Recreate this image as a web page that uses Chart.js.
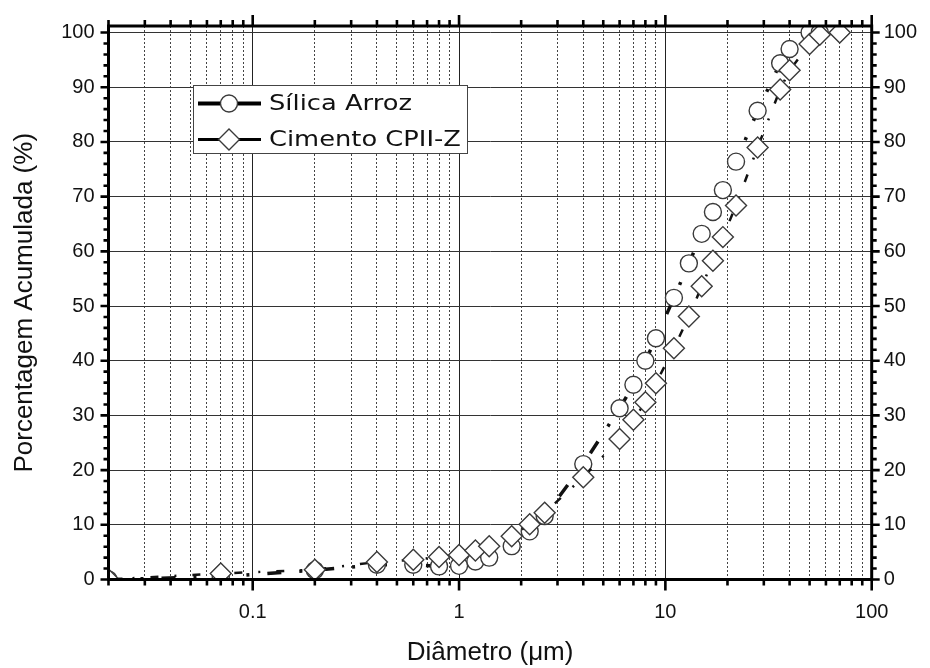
<!DOCTYPE html>
<html>
<head>
<meta charset="utf-8">
<script src="https://cdn.jsdelivr.net/npm/chart.js@4.4.1/dist/chart.umd.min.js"></script>
<style>
  html, body { margin: 0; padding: 0; background: #fff; }
  #wrap { width: 930px; height: 668px; }
</style>
</head>
<body>
<div id="wrap"><canvas id="psd-chart" width="930" height="668"></canvas></div>
<script>
// particle size (um) and cumulative %
const diametro = [0.02, 0.07, 0.2, 0.4, 0.6, 0.8, 1, 1.2, 1.4, 1.8, 2.2, 2.6, 4, 6, 7, 8, 9, 11, 13, 15, 17, 19, 22, 28, 36, 40, 50, 56, 70];
const silicaArroz = [0, 0.5, 1.7, 2.7, 2.7, 2.4, 2.5, 3.3, 4.0, 6.1, 8.8, 11.6, 21.1, 31.3, 35.6, 40.0, 44.1, 51.5, 57.8, 63.2, 67.2, 71.2, 76.4, 85.7, 94.4, 97.0, 100, 100, null];
const cimentoCPIIZ = [0, 1.1, 1.8, 3.2, 3.6, 4.1, 4.5, 5.3, 6.1, 7.9, 10.1, 12.2, 18.7, 25.7, 29.2, 32.4, 35.9, 42.3, 48.1, 53.6, 58.3, 62.6, 68.4, 79.0, 89.6, 93.1, 97.9, 99.6, 100];

// axis ticks
const xTickValues = [0.02, 0.03, 0.04, 0.05, 0.06, 0.07, 0.08, 0.09,
  0.1, 0.2, 0.3, 0.4, 0.5, 0.6, 0.7, 0.8, 0.9,
  1, 2, 3, 4, 5, 6, 7, 8, 9,
  10, 20, 30, 40, 50, 60, 70, 80, 90, 100];
const xMajorTicks = [0.1, 1, 10, 100];
const yTickValues = [0, 2, 4, 6, 8, 10, 12, 14, 16, 18, 20, 22, 24, 26, 28, 30, 32, 34, 36, 38, 40,
  42, 44, 46, 48, 50, 52, 54, 56, 58, 60, 62, 64, 66, 68, 70, 72, 74, 76, 78, 80,
  82, 84, 86, 88, 90, 92, 94, 96, 98, 100];
const yMajorTicks = [0, 10, 20, 30, 40, 50, 60, 70, 80, 90, 100];

const Y_MAX = 101.2;
const TICK_FONT = { family: "'Liberation Sans', Arial, sans-serif", size: 20 };
const TITLE_FONT = { family: "'Liberation Sans', Arial, sans-serif", size: 26 };

const toPoints = (vals) => diametro.map((d, i) => ({ x: d, y: vals[i] }));

// box frame with ticks on all four sides (major ticks longer)
const frameAxes = {
  id: "frameAxes",
  afterDatasetsDraw(chart) {
    const { ctx, chartArea: a, scales } = chart;
    ctx.save();
    ctx.strokeStyle = "#000";
    ctx.lineWidth = 2.6;
    ctx.beginPath();
    xTickValues.forEach((v) => {
      const px = scales.x.getPixelForValue(v);
      const len = xMajorTicks.includes(v) ? 11 : 6;
      ctx.moveTo(px, a.bottom);
      ctx.lineTo(px, a.bottom + len);
      ctx.moveTo(px, a.top);
      ctx.lineTo(px, a.top - len);
    });
    yTickValues.forEach((v) => {
      const py = scales.y.getPixelForValue(v);
      const len = yMajorTicks.includes(v) ? 8 : 5;
      ctx.moveTo(a.left, py);
      ctx.lineTo(a.left - len, py);
      ctx.moveTo(a.right, py);
      ctx.lineTo(a.right + len, py);
    });
    ctx.stroke();
    ctx.lineWidth = 3;
    ctx.strokeRect(a.left, a.top, a.right - a.left, a.bottom - a.top);
    ctx.restore();
  }
};

// legend box inside the plot
const boxLegend = {
  id: "boxLegend",
  afterDraw(chart) {
    const ctx = chart.ctx;
    ctx.save();
    ctx.fillStyle = "#fff";
    ctx.fillRect(193, 85, 274, 68);
    ctx.strokeStyle = "#444";
    ctx.lineWidth = 1;
    ctx.strokeRect(193.5, 85.5, 274, 68);

    chart.data.datasets.forEach((ds, i) => {
      const cy = 103.5 + i * 36;
      const cx = 229;
      ctx.strokeStyle = "#000";
      ctx.lineWidth = i === 0 ? 4 : 3;
      ctx.setLineDash([]);
      ctx.beginPath();
      ctx.moveTo(198, cy);
      ctx.lineTo(261, cy);
      ctx.stroke();

      ctx.fillStyle = "#fff";
      ctx.strokeStyle = ds.pointBorderColor;
      ctx.lineWidth = 1.4;
      ctx.beginPath();
      if (ds.pointStyle === "circle") {
        ctx.arc(cx, cy, ds.pointRadius, 0, Math.PI * 2);
      } else {
        const r = ds.pointRadius;
        ctx.moveTo(cx, cy - r);
        ctx.lineTo(cx + r, cy);
        ctx.lineTo(cx, cy + r);
        ctx.lineTo(cx - r, cy);
        ctx.closePath();
      }
      ctx.fill();
      ctx.stroke();

      ctx.fillStyle = "#111";
      ctx.font = "22px 'DejaVu Sans', sans-serif";
      ctx.textBaseline = "middle";
      ctx.translate(269, cy + 1);
      ctx.scale(1.17, 1);
      ctx.fillText(ds.label, 0, 0);
      ctx.setTransform(1, 0, 0, 1, 0, 0);
    });
    ctx.restore();
  }
};

new Chart(document.getElementById("psd-chart"), {
  type: "line",
  data: {
    datasets: [
      {
        label: "Sílica Arroz",
        data: toPoints(silicaArroz),
        order: 1,
        borderColor: "#111",
        borderWidth: 3.5,
        borderDash: [14, 18, 3, 18],
        pointStyle: "circle",
        pointRadius: 8.5,
        pointBackgroundColor: "#fff",
        pointBorderColor: "#3a3a3a",
        pointBorderWidth: 1.4,
        tension: 0
      },
      {
        label: "Cimento CPII-Z",
        data: toPoints(cimentoCPIIZ),
        order: 0,
        borderColor: "#111",
        borderWidth: 2.5,
        borderDash: [8, 16, 2, 16],
        pointStyle: "rectRot",
        pointRadius: 10.5,
        pointBackgroundColor: "#fff",
        pointBorderColor: "#3a3a3a",
        pointBorderWidth: 1.4,
        tension: 0
      }
    ]
  },
  options: {
    responsive: false,
    animation: false,
    devicePixelRatio: 1,
    layout: { padding: { top: 21.7, left: 0, right: 0, bottom: 0 } },
    plugins: {
      legend: { display: false },
      tooltip: { enabled: false }
    },
    scales: {
      x: {
        type: "logarithmic",
        position: "bottom",
        min: 0.02,
        max: 100,
        afterBuildTicks: (s) => { s.ticks = xTickValues.map((v) => ({ value: v })); },
        afterFit: (s) => { s.height = 88.5; },
        grid: {
          color: (c) => (c.tick && xMajorTicks.includes(c.tick.value) ? "#222" : "#444"),
          lineWidth: 1,
          drawTicks: false
        },
        border: {
          display: false,
          dash: (c) => (c.tick && xMajorTicks.includes(c.tick.value) ? [] : [2, 2])
        },
        ticks: {
          autoSkip: false,
          maxRotation: 0,
          minRotation: 0,
          padding: 21,
          color: "#111",
          font: TICK_FONT,
          callback: (v) => (xMajorTicks.includes(v) ? String(v) : "")
        },
        title: {
          display: true,
          text: "Diâmetro (μm)",
          color: "#111",
          font: TITLE_FONT,
          padding: { top: 0, bottom: 0 }
        }
      },
      y: {
        type: "linear",
        position: "left",
        min: 0,
        max: Y_MAX,
        afterBuildTicks: (s) => { s.ticks = yTickValues.map((v) => ({ value: v })); },
        afterFit: (s) => { s.width = 108.5; },
        grid: {
          color: (c) => (c.tick && yMajorTicks.includes(c.tick.value) ? "#333" : "rgba(0,0,0,0)"),
          lineWidth: 1,
          drawTicks: false
        },
        border: { display: false },
        ticks: {
          autoSkip: false,
          padding: 14,
          color: "#111",
          font: TICK_FONT,
          callback: (v) => (yMajorTicks.includes(v) ? String(v) : "")
        },
        title: {
          display: true,
          text: "Porcentagem Acumulada (%)",
          color: "#111",
          font: TITLE_FONT,
          padding: { top: 9, bottom: 0 }
        }
      },
      y2: {
        type: "linear",
        position: "right",
        min: 0,
        max: Y_MAX,
        afterBuildTicks: (s) => { s.ticks = yMajorTicks.map((v) => ({ value: v })); },
        afterFit: (s) => { s.width = 58.3; },
        grid: { drawOnChartArea: false, drawTicks: false },
        border: { display: false },
        ticks: {
          autoSkip: false,
          padding: 12,
          color: "#111",
          font: TICK_FONT
        }
      }
    }
  },
  plugins: [frameAxes, boxLegend]
});
</script>
</body>
</html>
